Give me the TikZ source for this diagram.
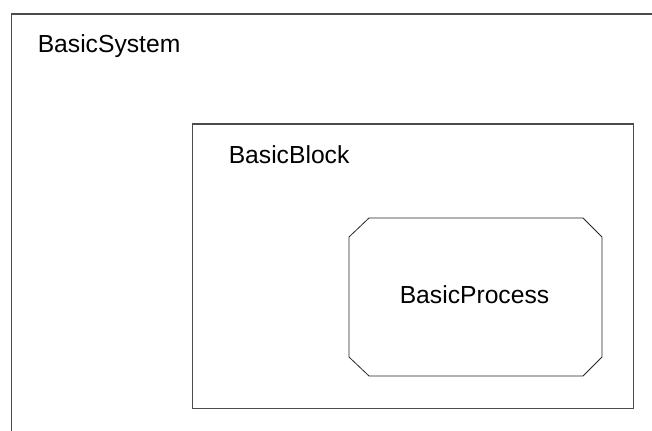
\documentclass[tikz,border=0pt]{standalone}
\usepackage{fontspec}
\setmainfont{Liberation Sans}
\begin{document}
\begin{tikzpicture}[x=0.75pt,y=-0.75pt,
  frame/.style={draw=black!70, line width=0.8pt, inner sep=0pt, anchor=north west},
  procline/.style={draw=black!85, line width=0.6pt},
  lbl/.style={font=\fontsize{18.5pt}{22pt}\selectfont, inner sep=0pt, anchor=base west}]
\useasboundingbox (0,0) rectangle (652,431);
\clip (0,0) rectangle (652,431);
% outer system box (extends past the picture)
\node[frame, minimum width=525pt, minimum height=360pt] (sys) at (11,13.5) {};
% block
\node[frame, minimum width=330.75pt, minimum height=213pt] (blk) at (192,123.5) {};
% process (chamfered octagon)
\draw[procline] (369,218) -- (583,218) -- (602,237) -- (602,357) -- (583,376)
  -- (369,376) -- (349,357) -- (349,237) -- cycle;
\coordinate (proc) at (475.5,297);
\begin{scope}
\clip (0,0) rectangle (183,431);
\node[lbl] (tsys) at (37.5,53) {BasicSystem};
\end{scope}
\node[lbl] (tblk) at (228.5,163) {BasicBlock};
\begin{scope}
\clip (0,0) rectangle (552,431);
\node[lbl] (tproc) at (399.5,303) {BasicProcess};
\end{scope}
\end{tikzpicture}
\end{document}
